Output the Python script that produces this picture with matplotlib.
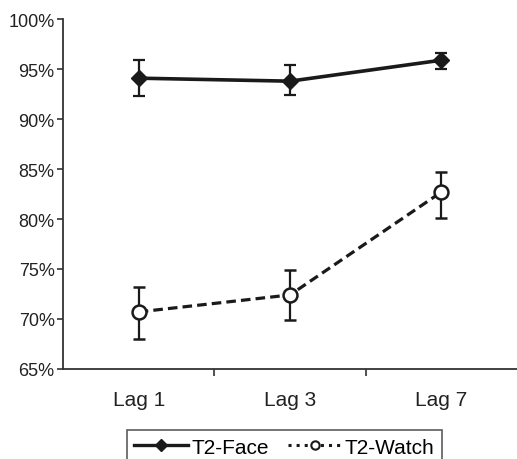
import matplotlib
matplotlib.use("Agg")
from matplotlib import pyplot as plt
from matplotlib.lines import Line2D
from matplotlib.ticker import FuncFormatter
import numpy as np

plt.rcParams["font.family"] = ["Liberation Sans", "DejaVu Sans"]

# ----------------------
# Data
# ----------------------
lags = ["Lag 1", "Lag 3", "Lag 7"]
face_mean = [94.1, 93.8, 95.9]
face_lo = [92.3, 92.4, 95.0]
face_hi = [95.9, 95.4, 96.6]
watch_mean = [70.7, 72.4, 82.7]
watch_lo = [68.0, 69.9, 80.1]
watch_hi = [73.2, 74.9, 84.7]

x = np.arange(len(lags))
face_err = [np.subtract(face_mean, face_lo), np.subtract(face_hi, face_mean)]
watch_err = [np.subtract(watch_mean, watch_lo), np.subtract(watch_hi, watch_mean)]

ink = "#1a1a1a"

fig = plt.figure(figsize=(5.17, 4.6), dpi=100)
ax = fig.add_axes([0.122, 0.196, 0.878, 0.76])

# T2-Face --------------------------------
ax.errorbar(x, face_mean, yerr=face_err, color=ink, lw=2.6, marker="D",
            ms=8, mfc=ink, mec=ink, elinewidth=1.6, capsize=4, capthick=1.6,
            zorder=3)

# T2-Watch -------------------------------
ax.errorbar(x, watch_mean, yerr=watch_err, color=ink, lw=2.3, ls=(0, (3, 1.6)),
            marker="o", ms=10, mfc="white", mec=ink, mew=1.8,
            elinewidth=1.6, capsize=4, capthick=1.6, zorder=3)

ax.set_xlim(-0.5, 2.5)
ax.set_ylim(65, 100)
ax.set_yticks(np.arange(65, 101, 5))
ax.yaxis.set_major_formatter(FuncFormatter(lambda v, p: "%d%%" % v))
ax.set_xticks(x)
ax.set_xticklabels(lags)
ax.set_xticks([0.5, 1.5], minor=True)
ax.tick_params(axis="x", which="major", length=0, pad=15, labelsize=15, colors="#222222")
ax.tick_params(axis="x", which="minor", length=5, width=1.2, direction="out", color="#333333")
ax.tick_params(axis="y", length=4, width=1.2, direction="out", labelsize=13,
               colors="#333333", labelcolor="#222222", pad=2)

for side in ["top", "right"]:
    ax.spines[side].set_visible(False)
for side in ["left", "bottom"]:
    ax.spines[side].set_linewidth(1.3)
    ax.spines[side].set_color("#333333")

handles = [
    Line2D([], [], color=ink, lw=2.4, marker="D", ms=6, mfc=ink, mec=ink),
    Line2D([], [], color=ink, lw=2.2, ls=":", marker="o", ms=6, mfc="white",
           mec=ink, mew=1.5),
]
leg = fig.legend(handles, ["T2-Face", "T2-Watch"], loc="upper center",
                 bbox_to_anchor=(0.55, 0.085), ncol=2, frameon=True,
                 fancybox=False, edgecolor="#333333", handlelength=2.6,
                 handletextpad=0.15, columnspacing=0.9, fontsize=15,
                 borderpad=0.35)
leg.get_frame().set_linewidth(1.2)

plt.savefig("out.png", dpi=100)
